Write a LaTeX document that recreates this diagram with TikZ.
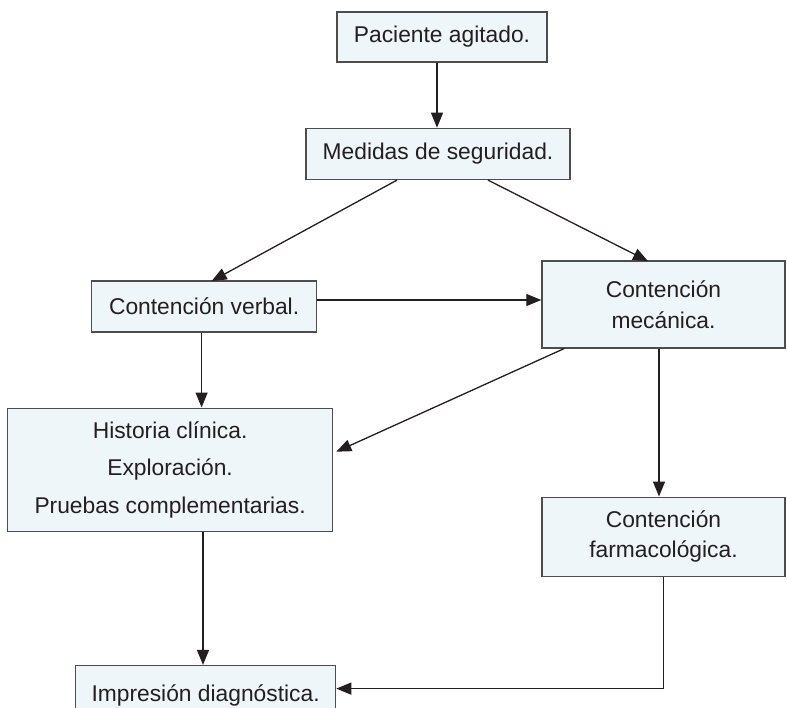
\documentclass[tikz,border=0pt]{standalone}
\usepackage{fontspec}
\setmainfont{Liberation Sans}
\usetikzlibrary{arrows.meta, positioning}
\definecolor{cfill}{HTML}{EEF6FA}
\definecolor{cedge}{HTML}{4D4D4D}
\definecolor{cink}{HTML}{231F20}
\tikzset{
  every picture/.style={line width=1.4pt},
  box/.style={draw=cedge, fill=cfill, align=center, inner sep=0pt, text=cink,
    font=\fontsize{22.8pt}{27pt}\selectfont},
  arrow/.style={-{Triangle[length=15pt, width=12pt]}, draw=cink, line width=1.3pt},
}

\begin{document}
\begin{tikzpicture}[x=1pt, y=-1pt]
  \useasboundingbox (0,0) rectangle (787,707);
  \clip (0,0) rectangle (787,707);
  \node[box, minimum width=210pt, minimum height=50pt] (paciente) at (442,37) {Paciente agitado.};
  \node[box, minimum width=264pt, minimum height=51pt, below=65pt of paciente, xshift=-4pt] (medidas) {Medidas de seguridad.};
  \node[box, minimum width=243pt, minimum height=87pt, below=80pt of medidas, xshift=225.5pt] (mecanica) {Contención\\[4pt]mecánica.};
  \node[box, minimum width=225pt, minimum height=51pt, left=224pt of mecanica, yshift=-2pt] (verbal) {Contención verbal.};
  \node[box, minimum width=325pt, minimum height=123pt, below=75pt of verbal, xshift=-34pt] (historia) {Historia clínica.\\[10.5pt]Exploración.\\[10.5pt]Pruebas complementarias.};
  \node[box, minimum width=243pt, minimum height=79pt, below=148pt of mecanica] (farmaco) {Contención\\[3pt]farmacológica.};
  \node[box, minimum width=260pt, minimum height=60pt, below=133pt of historia, xshift=35.5pt] (impresion) {Impresión diagnóstica.};
  \draw[arrow] ([xshift=-5pt]paciente.south) -- ([xshift=-5pt]paciente.south |- medidas.north);
  \draw[arrow] ([xshift=-41pt]medidas.south) -- ([xshift=7.5pt, yshift=-1pt]verbal.north);
  \draw[arrow] ([xshift=50pt]medidas.south) -- ([xshift=-15.5pt, yshift=-1pt]mecanica.north);
  \draw[arrow] (verbal.east |- 0,300) -- (mecanica.west |- 0,300);
  \draw[arrow] ([xshift=-2.5pt]verbal.south) -- ([xshift=-2.5pt]verbal.south |- historia.north);
  \draw[arrow] ([xshift=23pt]mecanica.south west) -- ([xshift=3pt, yshift=18pt]historia.east);
  \draw[arrow] ([xshift=-4.5pt]mecanica.south) -- ([xshift=-4.5pt]mecanica.south |- farmaco.north);
  \draw[arrow] (historia.south -| 203,0) -- (impresion.north -| 203,0);
  \draw[arrow] (farmaco.south) |- ([yshift=7pt]impresion.east);
\end{tikzpicture}
\end{document}
